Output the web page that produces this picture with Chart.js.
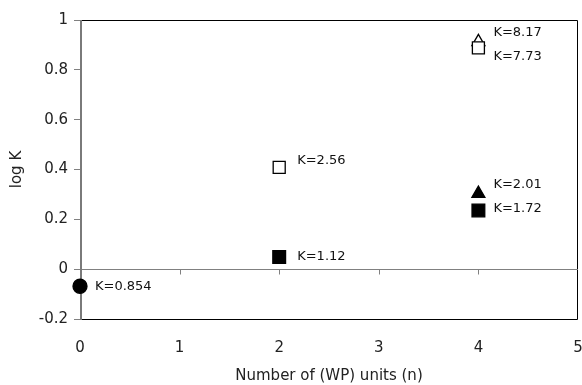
<!DOCTYPE html>
<html>
<head>
<meta charset="utf-8">
<script src="https://cdn.jsdelivr.net/npm/chart.js@4/dist/chart.umd.min.js"></script>
<style>
  html, body { margin: 0; padding: 0; background: #fff; }
  #wrap { width: 582px; height: 385px; }
</style>
</head>
<body>
<div id="wrap"><canvas id="c" width="582" height="385"></canvas></div>
<script>
// Stability constants K vs. number of (WP) units, plotted as log K
const filledCircleN = [0];
const filledCircleK = [0.854];
const openSquareN = [2, 4];
const openSquareK = [2.56, 7.73];
const filledSquareN = [2, 4];
const filledSquareK = [1.12, 1.72];
const openTriangleN = [4];
const openTriangleK = [8.17];
const filledTriangleN = [4];
const filledTriangleK = [2.01];

const xTicks = [0, 1, 2, 3, 4, 5];
const yTicks = [-0.2, 0, 0.2, 0.4, 0.6, 0.8, 1];

const FONT = '"DejaVu Sans", sans-serif';

function points(ns, ks) {
  return ns.map((n, i) => ({ x: n, y: Math.log10(ks[i]), k: ks[i] }));
}

// Label placement (pixel offsets from each marker), per dataset
const labelOffsets = [
  [[15, 0]],
  [[18, -7], [15, 9]],
  [[18, 0], [15, -2]],
  [[15, -9]],
  [[15, -9]]
];

const kLabels = {
  id: 'kLabels',
  afterDatasetsDraw(chart) {
    const ctx = chart.ctx;
    const xs = chart.scales.x, ys = chart.scales.y;
    ctx.save();
    ctx.font = '13px ' + FONT;
    ctx.fillStyle = '#111';
    ctx.textAlign = 'left';
    ctx.textBaseline = 'middle';
    chart.data.datasets.forEach((ds, di) => {
      ds.data.forEach((p, i) => {
        const off = labelOffsets[di][i];
        const px = xs.getPixelForValue(p.x) + off[0];
        const py = ys.getPixelForValue(p.y) + off[1];
        ctx.fillText('K=' + p.k, px, py);
      });
    });
    ctx.restore();
  }
};

// Plot frame, zero line ticks and the gray value axis
const frame = {
  id: 'frame',
  beforeDatasetsDraw(chart) {
    const { ctx, chartArea: a } = chart;
    const xs = chart.scales.x, ys = chart.scales.y;
    const y0 = Math.round(ys.getPixelForValue(0)) + 0.5;
    ctx.save();
    ctx.strokeStyle = '#000';
    ctx.lineWidth = 1;
    ctx.beginPath();
    ctx.moveTo(a.left, Math.round(a.top) + 0.5);
    ctx.lineTo(Math.round(a.right) - 0.5, Math.round(a.top) + 0.5);
    ctx.lineTo(Math.round(a.right) - 0.5, Math.round(a.bottom) + 0.5);
    ctx.lineTo(a.left, Math.round(a.bottom) + 0.5);
    ctx.stroke();
    // zero line with downward tick marks
    ctx.strokeStyle = '#808080';
    ctx.beginPath();
    ctx.moveTo(a.left, y0);
    ctx.lineTo(a.right, y0);
    xTicks.slice(1, -1).forEach(v => {
      const x = Math.round(xs.getPixelForValue(v)) + 0.5;
      ctx.moveTo(x, y0);
      ctx.lineTo(x, y0 + 5);
    });
    ctx.stroke();
    // value axis
    ctx.strokeStyle = '#7a7a7a';
    ctx.lineWidth = 2;
    ctx.beginPath();
    ctx.moveTo(a.left + 1, a.top);
    ctx.lineTo(a.left + 1, a.bottom + 1);
    ctx.stroke();
    ctx.restore();
  }
};

function ds(label, ns, ks, style, filled, radius) {
  return {
    label,
    data: points(ns, ks),
    pointStyle: style,
    pointRadius: radius,
    pointHoverRadius: radius,
    pointBackgroundColor: filled ? '#000' : '#fff',
    pointBorderColor: '#000',
    pointBorderWidth: 1.3,
    showLine: false,
    clip: false
  };
}

new Chart(document.getElementById('c'), {
  type: 'scatter',
  data: {
    datasets: [
      ds('n=0', filledCircleN, filledCircleK, 'circle', true, 7),
      ds('open square', openSquareN, openSquareK, 'rect', false, 8.5),
      ds('filled square', filledSquareN, filledSquareK, 'rect', true, 9),
      ds('open triangle', openTriangleN, openTriangleK, 'triangle', false, 7.5),
      ds('filled triangle', filledTriangleN, filledTriangleK, 'triangle', true, 7.5)
    ]
  },
  options: {
    responsive: false,
    animation: false,
    layout: { autoPadding: false, padding: { top: 20, right: 4, left: 0, bottom: 0 } },
    plugins: { legend: { display: false }, tooltip: { enabled: false } },
    scales: {
      x: {
        type: 'linear',
        min: 0, max: 5,
        afterBuildTicks: s => { s.ticks = xTicks.map(v => ({ value: v })); },
        afterFit: s => { s.height = 66; s.paddingRight = 0; s.paddingLeft = 0; },
        grid: { display: false, drawTicks: false },
        border: { display: false },
        ticks: { padding: 20, color: '#222', font: { family: FONT, size: 15 } },
        title: {
          display: true, text: 'Number of (WP) units (n)',
          color: '#222', font: { family: FONT, size: 15 }, padding: { top: 0, bottom: 0 }
        }
      },
      y: {
        type: 'linear',
        min: -0.2, max: 1,
        afterBuildTicks: s => { s.ticks = yTicks.map(v => ({ value: v })); },
        afterFit: s => { s.width = 80; s.paddingTop = 0; s.paddingBottom = 0; },
        grid: {
          drawOnChartArea: false, drawTicks: true, tickLength: 6,
          tickColor: '#808080', color: '#808080'
        },
        border: { display: false },
        ticks: {
          padding: 6, color: '#222', font: { family: FONT, size: 15 },
          callback: v => String(Math.round(v * 10) / 10)
        },
        title: {
          display: true, text: 'log K',
          color: '#222', font: { family: FONT, size: 15 }, padding: { top: 8, bottom: 0 }
        }
      }
    }
  },
  plugins: [frame, kLabels]
});
</script>
</body>
</html>
